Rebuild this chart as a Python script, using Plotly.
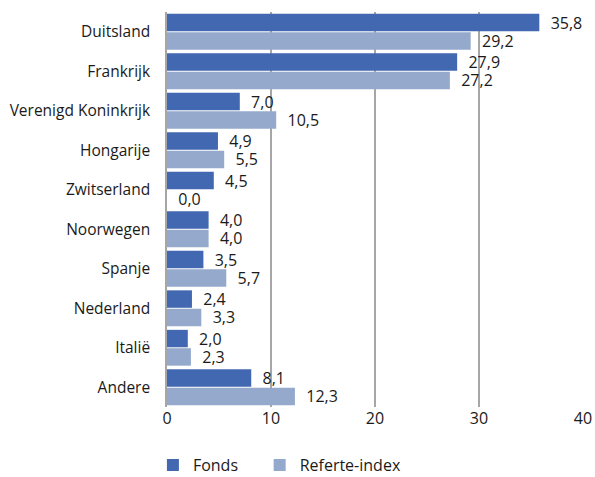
import plotly.graph_objects as go

categories = ["Duitsland", "Frankrijk", "Verenigd Koninkrijk", "Hongarije", "Zwitserland",
              "Noorwegen", "Spanje", "Nederland", "Italië", "Andere"]
fonds = [35.8, 27.9, 7.0, 4.9, 4.5, 4.0, 3.5, 2.4, 2.0, 8.1]
index = [29.2, 27.2, 10.5, 5.5, 0.0, 4.0, 5.7, 3.3, 2.3, 12.3]
series_names = ["Fonds", "Referte-index"]
tick_vals = [0, 10, 20, 30, 40]

font_family = "Open Sans, Noto Sans, sans-serif"
fig = go.Figure()
for vals, name, color in [(fonds, series_names[0] + "\u00a0" * 4, "#4368b2"),
                          (index, series_names[1], "#94a9cc")]:
    fig.add_trace(go.Bar(y=categories, x=vals, name=name, orientation="h",
                         marker=dict(color=color, line=dict(width=0)),
                         texttemplate="\u00a0\u00a0%{x:.1f}", textposition="outside",
                         constraintext="none",
                         textfont=dict(size=16, color="#1a1a1a"), cliponaxis=False))
fig.update_layout(
    width=595, height=477, barmode="group", bargap=0.07, bargroupgap=0.05,
    separators=",.",
    margin=dict(l=167, r=12, t=12, b=70, autoexpand=False),
    plot_bgcolor="white", paper_bgcolor="white",
    font=dict(family=font_family, size=16, color="#1a1a1a"),
    xaxis=dict(range=[0, 40], tickvals=tick_vals, showgrid=True, gridcolor="#a6a6a6",
               gridwidth=1.5, zeroline=False, showline=False, ticks="",
               tickfont=dict(size=16), automargin=False),
    yaxis=dict(autorange="reversed", ticks="", showline=True, linecolor="#a6a6a6",
               linewidth=1.5, ticklabelstandoff=12, tickfont=dict(size=15.5), automargin=False),
    legend=dict(orientation="h", x=0.257, y=0.025, xref="container", yref="container",
                xanchor="left", yanchor="middle",
                font=dict(size=16), itemwidth=30, traceorder="normal"),
    showlegend=True,
)
fig.write_html("out.html")
